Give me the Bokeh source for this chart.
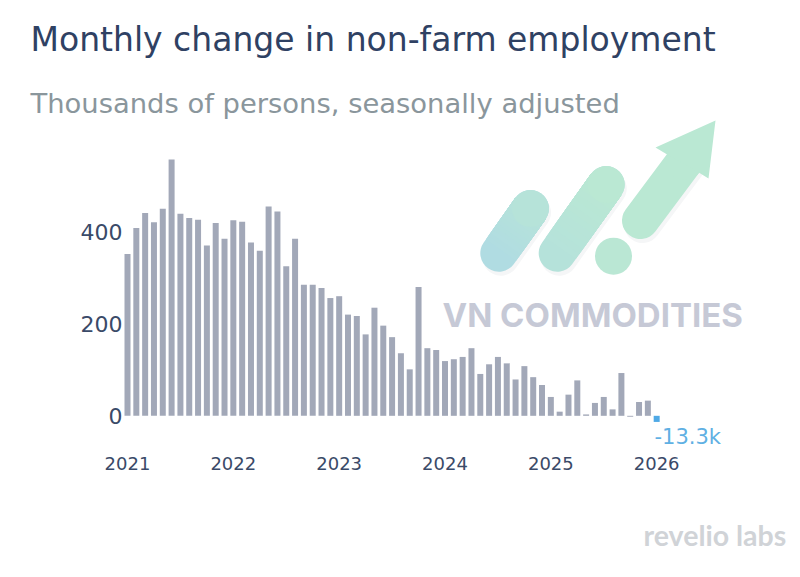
from bokeh.embed import file_html
from bokeh.resources import INLINE
from bokeh.plotting import figure
from bokeh.models import ColumnDataSource, Range1d, Label, LinearAxis

# ---- chart data (thousands of persons), Jan 2021 .. Jan 2026 ----
values = [352, 408, 441, 421, 450, 557, 439, 430, 426, 370, 419, 385,
          425, 422, 377, 359, 455, 444, 325, 385, 285, 285, 278, 256,
          260, 220, 217, 177, 235, 196, 171, 136, 101, 280, 147, 143,
          119, 123, 128, 147, 91, 112, 128, 114, 79, 108, 84, 67,
          41, 9, 46, 77, 3, 28, 41, 14, 93, -2, 30, 33]
last_value = -13.3
year_ticks = [0, 12, 24, 36, 48, 60]
year_labels = ["2021", "2022", "2023", "2024", "2025", "2026"]
y_ticks = [0, 200, 400]

BAR = "#a2a8b8"
HILITE = "#4fa9e6"

p = figure(width=792, height=561, output_backend="svg", toolbar_location=None,
           x_range=Range1d(-14.4, 75.4), y_range=Range1d(-316.7, 902.8),
           min_border=0, x_axis_location=None, y_axis_location=None)
p.outline_line_color = None
p.grid.visible = False
p.background_fill_color = "white"

# pixel-space range pair for the decorative logo / captions
p.extra_x_ranges["px"] = Range1d(0, 792)
p.extra_y_ranges["px"] = Range1d(561, 0)


def caption(text, x, y, size, color, font="DejaVu Sans", style="normal"):
    p.add_layout(Label(x=x, y=y, x_range_name="px", y_range_name="px", text=text,
                       text_font=font, text_font_size=size, text_font_style=style,
                       text_color=color, text_baseline="middle", text_align="left"))


caption("Monthly change in non-farm employment", 30, 39, "33px", "#2f4163")
caption("Thousands of persons, seasonally adjusted", 30, 103, "27.4px", "#8a969c")

src = ColumnDataSource(dict(x=list(range(len(values))), top=values))
p.vbar(x="x", top="top", bottom=0, width=0.68, source=src, fill_color=BAR, line_color=None)
p.vbar(x=[len(values)], top=[last_value], bottom=0, width=0.68, fill_color=HILITE, line_color=None)

xa = LinearAxis(fixed_location=-75.4, ticker=year_ticks,
                major_label_overrides=dict(zip(year_ticks, year_labels)),
                axis_line_color=None, major_tick_line_color=None, minor_tick_line_color=None,
                major_tick_out=0, major_label_text_font="DejaVu Sans",
                major_label_text_font_size="18px", major_label_text_color="#3a4a68",
                major_label_standoff=7)
p.add_layout(xa, "below")
ya = LinearAxis(fixed_location=-0.567, ticker=y_ticks,
                axis_line_color=None, major_tick_line_color=None, minor_tick_line_color=None,
                major_tick_out=0, major_label_text_font="DejaVu Sans",
                major_label_text_font_size="22px", major_label_text_color="#3a4a68",
                major_label_standoff=0)
p.add_layout(ya, "left")

caption("-13.3k", 654, 436, "21px", "#5fb0e3")


# ---- decorative watermark, drawn in pixel-space ----
def mix(t, a=(176, 220, 226), b=(186, 232, 211)):
    return "#%02x%02x%02x" % tuple(int(round(a[i] + (b[i] - a[i]) * t)) for i in range(3))


def pill(x0, y0, x1, y1, t0, t1, w=37, n=14):
    # soft shadow
    p.line([x0 + 2, x1 + 2], [y0 + 4, y1 + 4], line_width=w, line_cap="round", line_color="#f5f6f7",
           x_range_name="px", y_range_name="px")
    for i in range(n):
        a, b = i / n, 1.0  # each piece runs to the far end so no seams show
        p.line([x0 + (x1 - x0) * a, x0 + (x1 - x0) * b], [y0 + (y1 - y0) * a, y0 + (y1 - y0) * b],
               line_width=w, line_cap="round" if i == 0 else "butt",
               line_color=mix(t0 + (t1 - t0) * (i + .5) / n),
               x_range_name="px", y_range_name="px")
    p.scatter([x1], [y1], size=w, marker="circle", fill_color=mix(t1), line_color=None,
              x_range_name="px", y_range_name="px")


pill(498.3, 252.7, 530, 208, 0.0, 0.6)
pill(556.7, 252.7, 605.7, 184, 0.5, 1.0)
p.scatter([613], [255.7], size=37, marker="circle", fill_color=mix(0.95), line_color=None,
          x_range_name="px", y_range_name="px")
pill(640, 220, 684, 161, 1.0, 1.0, n=1)
p.patch([715, 708, 695, 665, 655], [120, 178, 170, 153, 147], fill_color=mix(1.0), line_color=None,
        x_range_name="px", y_range_name="px")

caption("VN COMMODITIES", 442, 314, "33px", "#c6c9d6", font="Inter", style="bold")
caption("revelio labs", 643, 534, "28.5px", "#d0d3d7", font="Lato", style="bold")

open("out.html", "w").write(file_html(p, INLINE))
